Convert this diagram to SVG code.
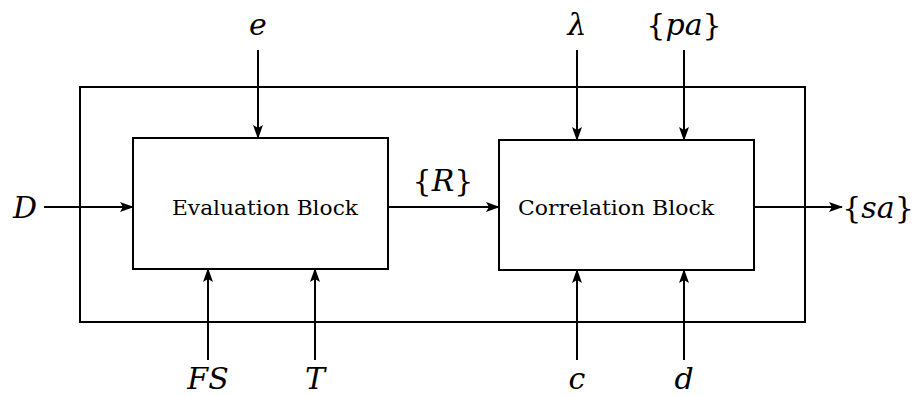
<svg xmlns="http://www.w3.org/2000/svg" width="915" height="396" viewBox="0 0 915 396">
<style>
.box{fill:none;stroke:#000;stroke-width:2}
.ln{fill:none;stroke:#000;stroke-width:2;marker-end:url(#ah)}
.m{font-family:"DejaVu Serif","Liberation Serif","Times New Roman",serif;font-style:italic;font-size:30px;fill:#000;text-anchor:middle}
.b{font-family:"DejaVu Serif","Liberation Serif","Times New Roman",serif;font-size:20px;fill:#000;text-anchor:middle}
.br{font-style:normal}
</style>
<defs>
<marker id="ah" viewBox="0 0 14 10" refX="13" refY="5" markerWidth="14" markerHeight="10" markerUnits="userSpaceOnUse" orient="auto">
<path d="M0,0 L14,5 L0,10 L3,5 Z" fill="#000"/>
</marker>
</defs>
<rect id="outer" class="box" x="80" y="87" width="725" height="235"/>
<g id="eval"><rect class="box" x="133" y="138" width="255" height="131"/><text class="b" x="265" y="215" textLength="186" lengthAdjust="spacingAndGlyphs">Evaluation Block</text></g>
<g id="corr"><rect class="box" x="499" y="140" width="255" height="130"/><text class="b" x="616" y="215" textLength="196" lengthAdjust="spacingAndGlyphs">Correlation Block</text></g>
<g id="connectors">
<line class="ln" x1="44" y1="207" x2="133" y2="207"/>
<line class="ln" x1="388" y1="207" x2="499" y2="207"/>
<line class="ln" x1="754" y1="207" x2="842" y2="207"/>
<line class="ln" x1="258" y1="50" x2="258" y2="138"/>
<line class="ln" x1="577" y1="50" x2="577" y2="140"/>
<line class="ln" x1="684" y1="50" x2="684" y2="140"/>
<line class="ln" x1="208" y1="360" x2="208" y2="269"/>
<line class="ln" x1="315" y1="360" x2="315" y2="269"/>
<line class="ln" x1="577" y1="360" x2="577" y2="270"/>
<line class="ln" x1="684" y1="360" x2="684" y2="270"/>
</g>
<g id="labels">
<text class="m" x="25" y="218">D</text>
<text class="m" x="258" y="35">e</text>
<text class="m" x="577" y="35">λ</text>
<text class="m" x="684" y="35"><tspan class="br">{</tspan>pa<tspan class="br">}</tspan></text>
<text class="m" x="443" y="191"><tspan class="br">{</tspan>R<tspan class="br">}</tspan></text>
<text class="m" x="878" y="218"><tspan class="br">{</tspan>sa<tspan class="br">}</tspan></text>
<text class="m" x="208" y="389">FS</text>
<text class="m" x="315" y="389">T</text>
<text class="m" x="577" y="389">c</text>
<text class="m" x="684" y="389">d</text>
</g>
</svg>
